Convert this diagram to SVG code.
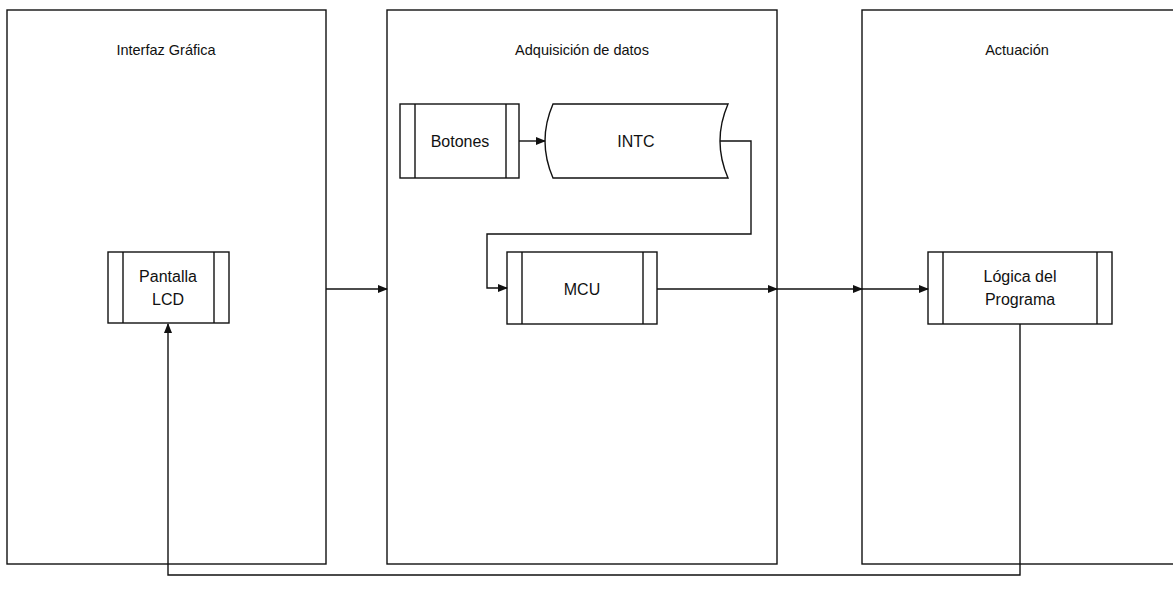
<svg xmlns="http://www.w3.org/2000/svg" width="1173" height="604" viewBox="0 0 1173 604">
<style>
.box{fill:#fff;stroke:#111;stroke-width:1.4}
.ln{fill:none;stroke:#111;stroke-width:1.4}
.c{fill:none;stroke:#111;stroke-width:1.4}
text{font-family:"Liberation Sans",Arial,sans-serif;font-size:16px;fill:#111;text-anchor:middle}
.t{font-size:14.5px}
</style>
<defs>
<marker id="ah" markerWidth="10" markerHeight="8" refX="9" refY="4" orient="auto" markerUnits="userSpaceOnUse">
<path d="M0,0 L10,4 L0,8 Z" fill="#111"/>
</marker>
</defs>
<rect width="1173" height="604" fill="#fff"/>
<g id="grafica">
<rect class="box" x="7" y="10" width="319" height="554"/>
<text class="t" x="166" y="55">Interfaz Gráfica</text>
</g>
<g id="adquisicion">
<rect class="box" x="387" y="10" width="390" height="554"/>
<text class="t" x="582" y="55">Adquisición de datos</text>
</g>
<g id="actuacion">
<rect class="box" x="862" y="10" width="320" height="554"/>
<text class="t" x="1017" y="55">Actuación</text>
</g>
<g id="pantalla">
<rect class="box" x="108" y="252" width="121" height="71"/>
<line class="ln" x1="123" y1="252" x2="123" y2="323"/>
<line class="ln" x1="214" y1="252" x2="214" y2="323"/>
<text x="168" y="282">Pantalla</text>
<text x="168" y="305">LCD</text>
</g>
<g id="botones">
<rect class="box" x="400" y="104" width="119" height="74"/>
<line class="ln" x1="415" y1="104" x2="415" y2="178"/>
<line class="ln" x1="506" y1="104" x2="506" y2="178"/>
<text x="460" y="147">Botones</text>
</g>
<g id="intc">
<path class="box" d="M553,104 L728,104 Q712,141 728,178 L553,178 Q537,141 553,104 Z"/>
<text x="636" y="147">INTC</text>
</g>
<g id="mcu">
<rect class="box" x="507" y="252" width="150" height="72"/>
<line class="ln" x1="522" y1="252" x2="522" y2="324"/>
<line class="ln" x1="643" y1="252" x2="643" y2="324"/>
<text x="582" y="295">MCU</text>
</g>
<g id="logica">
<rect class="box" x="928" y="252" width="184" height="72"/>
<line class="ln" x1="943" y1="252" x2="943" y2="324"/>
<line class="ln" x1="1097" y1="252" x2="1097" y2="324"/>
<text x="1020" y="282">Lógica del</text>
<text x="1020" y="305">Programa</text>
</g>
<g id="connectors">
<path class="c" d="M519,141 L545,141" marker-end="url(#ah)"/>
<path class="c" d="M720,141 L751,141 L751,234 L487,234 L487,288 L507,288" marker-end="url(#ah)"/>
<path class="c" d="M326,289 L387,289" marker-end="url(#ah)"/>
<path class="c" d="M657,289 L777,289" marker-end="url(#ah)"/>
<path class="c" d="M777,289 L862,289" marker-end="url(#ah)"/>
<path class="c" d="M862,289 L928,289" marker-end="url(#ah)"/>
<path class="c" d="M1020,324 L1020,575 L168,575 L168,324" marker-end="url(#ah)"/>
</g>
</svg>
